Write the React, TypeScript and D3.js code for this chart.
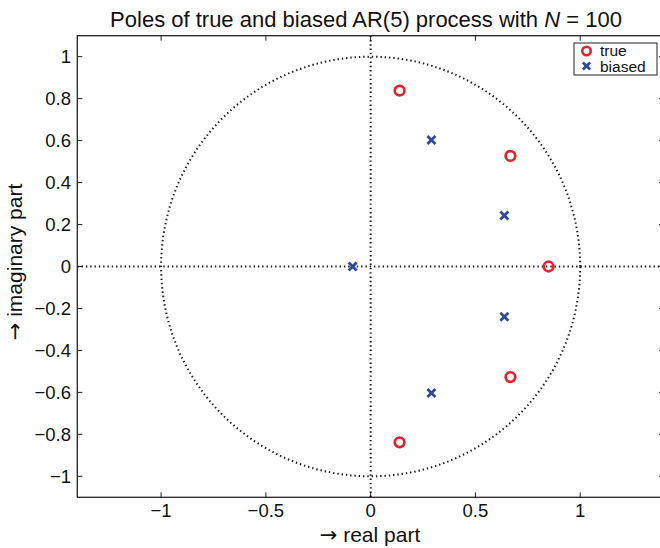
import React from "react";
import * as d3 from "d3";

const trueRe = [0.138, 0.667, 0.849, 0.667, 0.138];
const trueIm = [0.838, 0.527, 0.0, -0.527, -0.838];
const biasRe = [0.29, 0.638, -0.086, 0.638, 0.29];
const biasIm = [0.603, 0.243, 0.0, -0.24, -0.603];
const xTicks = [-1, -0.5, 0, 0.5, 1];
const yTicks = [-1, -0.8, -0.6, -0.4, -0.2, 0, 0.2, 0.4, 0.6, 0.8, 1];
const legendLabels = ["true", "biased"];

const W = 660, H = 548;
const L = 77.3, R = 664, T = 35.7, B = 497.3;
const RED = "#e5232a";
const BLUE = "#2f4a9c";
const FONT = "'Liberation Sans', Arial, Helvetica, sans-serif";
const ARROW_FONT = "'DejaVu Sans', sans-serif";

function Cross({ x, y, s = 4 }: { x: number; y: number; s?: number }) {
  return (
    <g stroke={BLUE} strokeWidth={2.8} strokeLinecap="butt">
      <line x1={x - s} y1={y - s} x2={x + s} y2={y + s} />
      <line x1={x - s} y1={y + s} x2={x + s} y2={y - s} />
    </g>
  );
}

const fmt = (t: number) => (t < 0 ? "\u2212" + Math.abs(t) : String(t));

export default function App() {
  const x = d3.scaleLinear().domain([-1.4, 1.4]).range([L, R]);
  const y = d3.scaleLinear().domain([-1.1, 1.1]).range([B, T]);
  const angles = d3.range(0, 361, 1).map((d) => (d * Math.PI) / 180);
  const circlePath = d3.line<number>()
    .x((a) => x(Math.cos(a)))
    .y((a) => y(Math.sin(a)))(angles) as string;
  const tl = 5;
  return (
    <svg width={W} height={H} style={{ position: "absolute", left: 0, top: 0, background: "#fff" }} fontFamily={FONT}>
      <rect x={0} y={0} width={W} height={H} fill="#fff" />
      <text x={366} y={27} fontSize={22} textAnchor="middle" fill="#111">
        Poles of true and biased AR(5) process with <tspan fontStyle="italic">N</tspan> = 100
      </text>
      {/* dotted guides */}
      <g stroke="#1a1a1a" strokeWidth={2} strokeDasharray="1.4,2.9" fill="none">
        <path d={circlePath} />
        <line x1={x(0)} x2={x(0)} y1={T} y2={B} />
        <line x1={L} x2={R} y1={y(0)} y2={y(0)} />
      </g>
      {/* axes box */}
      <rect x={L} y={T} width={R - L} height={B - T} fill="none" stroke="#222" strokeWidth={1.3} />
      {xTicks.map((t) => (
        <g key={"x" + t}>
          <line x1={x(t)} x2={x(t)} y1={B} y2={B - tl} stroke="#222" strokeWidth={1} />
          <line x1={x(t)} x2={x(t)} y1={T} y2={T + tl} stroke="#222" strokeWidth={1} />
          <text x={x(t)} y={B + 20} fontSize={18.5} textAnchor="middle" fill="#111">
            {fmt(t)}
          </text>
        </g>
      ))}
      {yTicks.map((t) => (
        <g key={"y" + t}>
          <line x1={L} x2={L + tl} y1={y(t)} y2={y(t)} stroke="#222" strokeWidth={1} />
          <line x1={R} x2={R - tl} y1={y(t)} y2={y(t)} stroke="#222" strokeWidth={1} />
          <text x={71} y={y(t) + 6.6} fontSize={18.5} textAnchor="end" fill="#111">
            {fmt(t)}
          </text>
        </g>
      ))}
      {/* data */}
      {trueRe.map((r, i) => (
        <circle key={"t" + i} cx={x(r)} cy={y(trueIm[i])} r={4.8} fill="none" stroke={RED} strokeWidth={2.7} />
      ))}
      {biasRe.map((r, i) => (
        <Cross key={"b" + i} x={x(r)} y={y(biasIm[i])} />
      ))}
      {/* legend */}
      <rect x={574} y={43} width={83} height={32} fill="#fff" stroke="#222" strokeWidth={1} />
      <circle cx={586.5} cy={51} r={4.2} fill="none" stroke={RED} strokeWidth={2.6} />
      <Cross x={586.5} y={66} s={3.6} />
      <text x={600} y={56} fontSize={15.5} fill="#111">{legendLabels[0]}</text>
      <text x={600} y={71.5} fontSize={15.5} fill="#111">{legendLabels[1]}</text>
      {/* axis labels */}
      <text x={370} y={542} fontSize={21} textAnchor="middle" fill="#111">
        <tspan fontFamily={ARROW_FONT}>{"\u2192"}</tspan>
        {" real part"}
      </text>
      <text transform={`translate(22,${262}) rotate(-90)`} fontSize={21} textAnchor="middle" fill="#111">
        <tspan fontFamily={ARROW_FONT}>{"\u2192"}</tspan>
        {" imaginary part"}
      </text>
    </svg>
  );
}
